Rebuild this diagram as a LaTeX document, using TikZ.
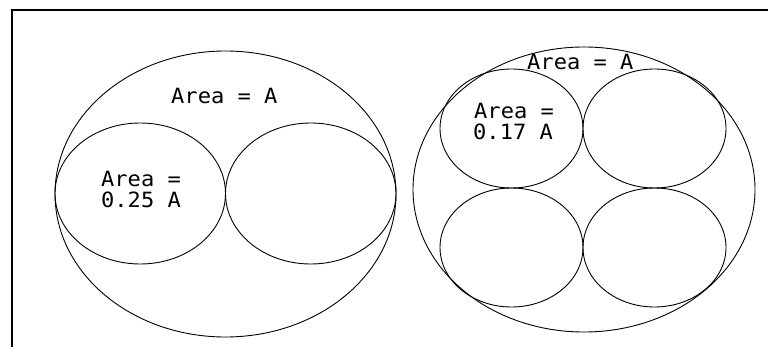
\documentclass[tikz,border=0pt]{standalone}
\usepackage{fontspec}
\newfontfamily\cadfont[FakeStretch=1.05]{DejaVu Sans Mono}
\begin{document}
\begin{tikzpicture}[x=1pt,y=-1pt,
  outline/.style={draw=black,line width=0.9pt},
  frameline/.style={draw=black,line width=2pt},
  lbl/.style={anchor=base west,inner sep=0pt,font=\cadfont\fontsize{21}{21}\selectfont}]
\useasboundingbox (0,0) rectangle (768,347);
% frame
\coordinate (fb) at (11.5,347);
\coordinate (fc) at (11.5,10);
\coordinate (fr) at (768,10);
\draw[frameline] (fb) -- (fc) -- (fr);
% left figure
\draw[outline] (225.5,194) ellipse [x radius=170.5,y radius=143];
\draw[outline] (140.25,193.5) ellipse [x radius=85.25,y radius=70.5];
\draw[outline] (310.75,193.5) ellipse [x radius=85.25,y radius=70.5];
\node[lbl] (la) at (171,104) {Area = A};
\node[lbl] (lb) at (101,187) {Area =};
\node[lbl] (lc) at (101,208) {0.25 A};
% right figure
\draw[outline] (584,189.5) ellipse [x radius=171,y radius=142.5];
\draw[outline] (511.5,128.5) ellipse [x radius=71.5,y radius=59.5];
\draw[outline] (654.5,128.5) ellipse [x radius=71.5,y radius=59.5];
\draw[outline] (511.5,247.5) ellipse [x radius=71.5,y radius=59.5];
\draw[outline] (654.5,247.5) ellipse [x radius=71.5,y radius=59.5];
\node[lbl] (ra) at (527,70) {Area = A};
\node[lbl] (rb) at (474,119) {Area =};
\node[lbl] (rc) at (473,140) {0.17 A};
\end{tikzpicture}
\end{document}
